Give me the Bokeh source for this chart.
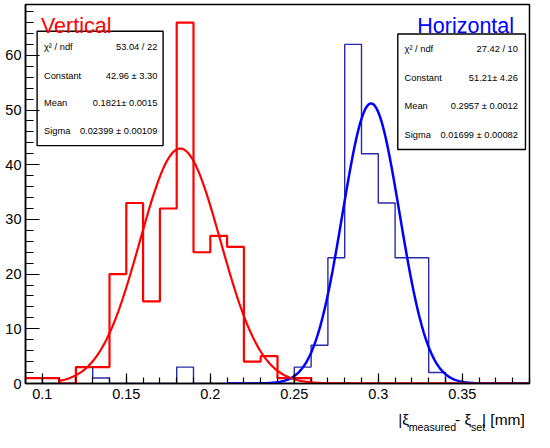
import numpy as np
from bokeh.plotting import figure
from bokeh.layouts import column
from bokeh.models import (Range1d, SingleIntervalTicker, ColumnDataSource,
                          BoxAnnotation, NumeralTickFormatter)
from bokeh.core.properties import value
from bokeh.embed import file_html
from bokeh.resources import INLINE

FONT = "Liberation Sans"

# ---- data ----
bin_edges = [0.09, 0.10, 0.11, 0.12, 0.13, 0.14, 0.15, 0.16, 0.17, 0.18,
             0.19, 0.20, 0.21, 0.22, 0.23, 0.24, 0.25, 0.26, 0.27, 0.28,
             0.29, 0.30, 0.31, 0.32, 0.33, 0.34, 0.35, 0.36, 0.37, 0.38, 0.39]
vertical_counts = [1, 1, 0, 3, 3, 20, 33, 15, 32, 66,
                   24, 27, 25, 4, 5, 1, 1, 0, 0, 0,
                   0, 0, 0, 0, 0, 0, 0, 0, 0, 0]
horizontal_counts = [1, 0, 0, 3, 1, 0, 0, 0, 0, 3,
                     0, 0, 0, 0, 0, 0, 3, 7, 23, 62,
                     42, 33, 23, 23, 2, 0, 0, 0, 0, 0]

# Gaussian fit parameters (as printed in the stat boxes)
vertical_constant, vertical_mean, vertical_sigma = 42.96, 0.1821, 0.02399
horizontal_constant, horizontal_mean, horizontal_sigma = 51.21, 0.2957, 0.01699
vertical_fit_range = (0.11, 0.39)
horizontal_fit_range = (0.21, 0.39)

stat_names = ["\u03c7\u00b2 / ndf", "Constant", "Mean", "Sigma"]
vertical_stats = ["53.04 / 22", "42.96 \u00b1 3.30", "0.1821\u00b1 0.0015", "0.02399 \u00b1 0.00109"]
horizontal_stats = ["27.42 / 10", "51.21\u00b1 4.26", "0.2957 \u00b1 0.0012", "0.01699 \u00b1 0.00082"]

x_ticks_interval = 0.05
y_ticks_interval = 10

# ---- main figure ----
p = figure(width=534, height=405, output_backend="svg", toolbar_location=None,
           x_range=Range1d(0.09, 0.39), y_range=Range1d(0, 69.3),
           min_border_left=25, min_border_right=5, min_border_top=4,
           min_border_bottom=22)
p.xgrid.visible = False
p.ygrid.visible = False
p.background_fill_color = "white"
p.border_fill_color = "white"
p.outline_line_color = "black"
p.outline_line_width = 1.5
p.outline_line_alpha = 1.0

p.xaxis.ticker = SingleIntervalTicker(interval=x_ticks_interval, num_minor_ticks=5)
p.yaxis.ticker = SingleIntervalTicker(interval=y_ticks_interval, num_minor_ticks=5)
p.xaxis.formatter = NumeralTickFormatter(format="0.[00]")
for ax in (p.xaxis, p.yaxis):
    ax.major_tick_out = 0
    ax.minor_tick_out = 0
    ax.axis_line_color = "black"
    ax.axis_line_width = 1.5
    ax.major_tick_line_color = "black"
    ax.minor_tick_line_color = "black"
    ax.major_tick_line_width = 1.2
    ax.minor_tick_line_width = 1.2
    ax.major_label_text_font = FONT
    ax.major_label_text_font_size = "14.5px"
    ax.major_label_text_color = "black"
p.xaxis.major_tick_in = 10
p.xaxis.minor_tick_in = 6
p.yaxis.major_tick_in = 14
p.yaxis.minor_tick_in = 8
p.xaxis.major_label_standoff = 5
p.yaxis.major_label_standoff = 4

# ---- histograms ----
hsrc = ColumnDataSource(dict(x=bin_edges, yh=horizontal_counts + [horizontal_counts[-1]]))
vsrc = ColumnDataSource(dict(x=bin_edges, yv=vertical_counts + [vertical_counts[-1]]))
p.step(x="x", y="yh", source=hsrc, mode="after", line_color="#2a2aa8", line_width=1.4)
p.step(x="x", y="yv", source=vsrc, mode="after", line_color="#ff0000", line_width=2.2)

# ---- Gaussian fit curves from the printed parameters ----
xb = np.linspace(horizontal_fit_range[0], horizontal_fit_range[1], 400)
yb = horizontal_constant * np.exp(-0.5 * ((xb - horizontal_mean) / horizontal_sigma) ** 2)
xr = np.linspace(vertical_fit_range[0], vertical_fit_range[1], 400)
yr = vertical_constant * np.exp(-0.5 * ((xr - vertical_mean) / vertical_sigma) ** 2)
p.line(xb, yb, line_color="#0000ff", line_width=2.5)
p.line(xr, yr, line_color="#ff0000", line_width=2.2)

# ---- titles ----
p.text(x=[0.0992], y=[65.3], text=["Vertical"], text_color="#ff0000",
       text_font=value(FONT), text_font_size="21.5px", text_align="left",
       text_baseline="alphabetic")
p.text(x=[0.3808], y=[65.3], text=["Horizontal"], text_color="#0000ff",
       text_font=value(FONT), text_font_size="21.5px", text_align="right",
       text_baseline="alphabetic")

# ---- stat boxes ----
p.add_layout(BoxAnnotation(left=0.0969, right=0.1719, bottom=43.5, top=64.4,
                           fill_color="white", fill_alpha=1.0, line_color="black",
                           line_width=1.4, line_alpha=1.0, level="underlay"))
p.add_layout(BoxAnnotation(left=0.3116, right=0.3876, bottom=42.8, top=63.9,
                           fill_color="white", fill_alpha=1.0, line_color="black",
                           line_width=1.4, line_alpha=1.0, level="underlay"))

v_rows = [61.6, 56.3, 51.2, 46.1]
h_rows = [61.1, 55.8, 50.7, 45.4]
STAT_FS = "9.3px"
p.text(x=[0.1010] * 4, y=v_rows, text=stat_names, text_color="black",
       text_font=value(FONT), text_font_size=STAT_FS, text_align="left",
       text_baseline="middle")
p.text(x=[0.1685] * 4, y=v_rows, text=vertical_stats, text_color="black",
       text_font=value(FONT), text_font_size=STAT_FS, text_align="right",
       text_baseline="middle")
p.text(x=[0.3156] * 4, y=h_rows, text=stat_names, text_color="black",
       text_font=value(FONT), text_font_size=STAT_FS, text_align="left",
       text_baseline="middle")
p.text(x=[0.3831] * 4, y=h_rows, text=horizontal_stats, text_color="black",
       text_font=value(FONT), text_font_size=STAT_FS, text_align="right",
       text_baseline="middle")

# ---- x axis title strip (with subscripts) ----
t = figure(width=534, height=27, output_backend="svg", toolbar_location=None,
           x_range=Range1d(0, 534), y_range=Range1d(0, 27),
           x_axis_type=None, y_axis_type=None, min_border=0)
t.xgrid.visible = False
t.ygrid.visible = False
t.outline_line_color = None
t.background_fill_color = "white"
t.border_fill_color = "white"

main_parts = ["|\u03be", "- \u03be"]
main_x = [395, 455]
t.text(x=main_x, y=[13.5, 13.5], text=main_parts, text_color="black",
       text_font=value(FONT), text_font_size="15.5px", text_align="left",
       text_baseline="alphabetic")
sub_parts = ["measured", "set"]
sub_x = [406, 472]
t.text(x=sub_x, y=[6, 6], text=sub_parts, text_color="black",
       text_font=value(FONT), text_font_size="10.7px", text_align="left",
       text_baseline="alphabetic")
t.text(x=[529], y=[13.5], text=["| [mm]"], text_color="black",
       text_font=value(FONT), text_font_size="15.5px", text_align="right",
       text_baseline="alphabetic")

layout = column(p, t, spacing=0)
open("out.html", "w").write(file_html(layout, INLINE))
